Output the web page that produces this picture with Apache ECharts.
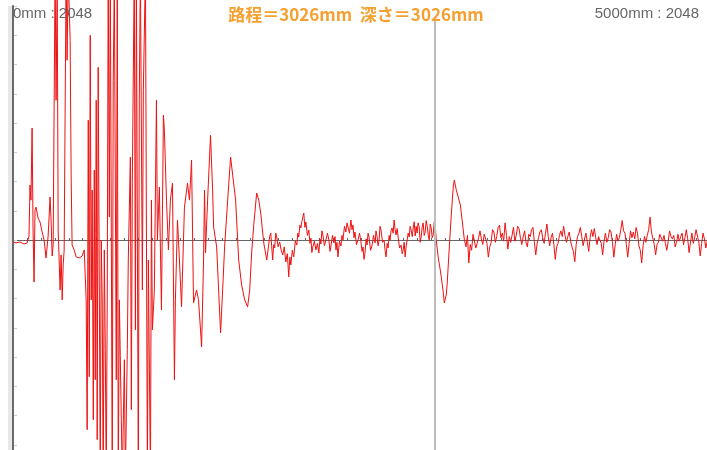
<!DOCTYPE html>
<html>
<head>
<meta charset="utf-8">
<script src="https://cdn.jsdelivr.net/npm/echarts@6/dist/echarts.min.js"></script>
<style>html,body{margin:0;padding:0;background:#fff}#c{width:707px;height:450px}</style>
</head>
<body>
<div id="c"></div>
<script>
// ---- data (position in mm, amplitude in A/D counts) ----
const rangeStartMm = 0;
const rangeEndMm = 5000;
const fullScale = 2048;
const cursorMm = 3026;
const depthMm = 3026;
const leftLabel = rangeStartMm + 'mm : ' + fullScale;
const rightLabel = rangeEndMm + 'mm : ' + fullScale;
const titleLabel = '路程＝' + cursorMm + 'mm  深さ＝' + depthMm + 'mm';

const quietStart = [[0,-17],[22,-26],[50,-17],[79,-35],[101,-26]];
const firstEcho = [[115,35],[122,481],[129,349],[137,979],[144,87],[151,-367],[158,262],[165,288],[180,192],[194,157],[209,70],[223,0],[237,-157],[252,35],[266,376],[273,175],[281,-140],[288,-44]];
const mainBurst = [[302,2359],[309,1223],[317,2272],[324,87],[338,-437],[345,-131],[353,-524],[360,-218],[367,-87],[381,2359],[388,1573],[396,2359],[410,1747],[417,568],[424,-44],[439,-87],[453,-148],[475,-157],[496,-140],[511,-87],[525,-524],[532,-1660],[540,1048],[547,-1197],[554,1791],[561,-524],[568,437],[576,-1573],[583,612],[590,-1223],[597,1223],[604,-1747],[611,1511],[626,-2010],[633,0],[640,-524],[647,-2097],[655,-87],[662,-961],[669,-2097],[676,-524],[683,2359],[691,201],[698,2359],[712,-2097],[719,1398],[727,2272],[741,-1223],[748,2359],[755,-2097],[763,-524],[777,-1573],[784,-2097],[799,-1048],[806,-2097],[820,-961],[827,-175],[842,725],[849,-1485],[856,524],[870,2359],[878,-786],[885,2359],[899,-2097],[906,1223],[914,2359],[928,-437],[935,1311],[950,2359],[964,-2097],[971,-175],[986,-2097],[993,349],[1000,-786],[1014,-437],[1029,1223],[1036,0],[1050,463],[1065,-612],[1079,1092]];
const decay = [[1086,961],[1101,349],[1115,-87],[1129,349],[1144,498],[1158,-1223],[1165,-524],[1180,175],[1194,-175],[1209,-585],[1223,0],[1230,288],[1252,498],[1266,349],[1281,699],[1295,-550],[1317,-437],[1331,-524],[1353,-935],[1367,-175],[1374,437],[1381,-114],[1396,349],[1417,917],[1432,437],[1439,114],[1461,-61],[1475,-437],[1489,-813],[1504,-437],[1518,-61],[1540,349],[1561,725],[1576,568],[1597,349],[1619,-175],[1640,-393],[1662,-524],[1683,-585],[1698,-437],[1712,-114],[1727,131],[1748,411],[1763,349],[1777,236],[1799,-26],[1820,-175]];
const midNoise = [[1834,-44],[1841,30],[1849,61],[1856,-60],[1863,-175],[1870,-40],[1877,-70],[1885,60],[1892,26],[1902,-60],[1913,-17],[1924,-90],[1935,-131],[1946,-60],[1957,-192],[1968,-120],[1978,-323],[1986,-150],[1993,-218],[2004,-90],[2014,-148],[2025,-10],[2036,-44],[2043,60],[2050,26],[2058,130],[2065,105],[2072,160],[2079,201],[2086,236],[2094,110],[2101,157],[2112,40],[2122,87],[2130,-30],[2137,17],[2144,-110],[2151,-61],[2162,-10],[2173,-87],[2184,-30],[2194,-114],[2202,10],[2209,-35],[2216,80],[2223,44],[2234,-50],[2245,0],[2256,60],[2266,0],[2274,-100],[2281,-52],[2292,40],[2302,-26],[2310,30],[2317,-87],[2324,-20],[2331,-148],[2342,-10],[2353,-52],[2360,40],[2367,0],[2378,120],[2388,70],[2396,150],[2403,114],[2414,60],[2424,175],[2432,90],[2439,131],[2446,20],[2453,70],[2464,-40],[2475,0],[2486,60],[2496,-17],[2504,-100],[2511,-61],[2518,-170],[2525,-114],[2533,10],[2540,-44],[2547,60],[2554,26],[2565,-90],[2575,-52],[2586,40],[2597,-26],[2604,80],[2611,35],[2619,-50],[2626,0],[2633,120],[2640,87],[2651,-20],[2662,0],[2669,-90],[2676,-148],[2684,-30],[2691,-70],[2698,40],[2705,0],[2712,80],[2719,105],[2727,60],[2734,175],[2741,90],[2748,44],[2756,100],[2763,26],[2773,-70],[2784,-44],[2792,-120],[2799,-87],[2806,-20],[2813,-148],[2820,-60],[2827,-44],[2835,60],[2842,26],[2849,120],[2856,87],[2864,30],[2871,105],[2878,160],[2885,35],[2892,120],[2899,61],[2906,150],[2914,114],[2921,-20],[2928,26],[2935,110],[2942,149],[2950,40],[2957,70],[2964,170],[2971,122],[2979,40],[2986,0],[2993,140],[3000,105],[3007,20],[3014,44],[3022,160],[3029,131]];
const reflection = [[3036,0],[3050,-148],[3065,-262],[3072,-323],[3086,-454],[3094,-550],[3108,-481],[3115,-376],[3130,-61],[3144,218],[3158,463],[3166,524],[3180,437],[3194,376],[3209,306],[3216,236],[3230,87],[3238,0]];
const tailNoise = [[3250,-60],[3260,40],[3270,-200],[3280,-40],[3290,-90],[3300,50],[3310,40],[3320,-70],[3330,-30],[3340,20],[3350,80],[3360,10],[3370,-40],[3380,50],[3390,60],[3400,-30],[3410,-150],[3420,-60],[3430,-20],[3440,90],[3450,70],[3460,-20],[3470,30],[3480,110],[3490,130],[3500,20],[3510,60],[3520,-10],[3530,150],[3540,40],[3550,-80],[3560,30],[3570,-20],[3580,40],[3590,110],[3600,-10],[3610,40],[3620,120],[3630,100],[3640,20],[3650,-40],[3660,30],[3670,80],[3680,-20],[3690,-60],[3700,50],[3710,30],[3720,90],[3730,110],[3740,-20],[3750,-130],[3760,-30],[3770,20],[3780,70],[3790,90],[3800,20],[3810,-30],[3820,60],[3830,140],[3840,30],[3850,-50],[3860,20],[3870,60],[3880,-40],[3890,-170],[3900,-60],[3910,-30],[3920,40],[3930,80],[3940,30],[3950,120],[3960,40],[3970,-20],[3980,30],[3990,70],[4000,-10],[4010,-60],[4020,-100],[4030,-190],[4040,-40],[4050,30],[4060,60],[4070,110],[4080,30],[4090,-50],[4100,10],[4110,60],[4120,-20],[4130,-100],[4140,20],[4150,90],[4160,30],[4170,100],[4180,20],[4190,-40],[4200,30],[4210,40],[4220,-30],[4230,-130],[4240,-10],[4250,60],[4260,-20],[4270,20],[4280,90],[4290,70],[4300,-20],[4310,-150],[4320,-40],[4330,50],[4340,-10],[4350,20],[4360,90],[4370,170],[4380,80],[4390,60],[4400,-40],[4410,-150],[4420,-30],[4430,80],[4440,20],[4450,70],[4460,10],[4470,110],[4480,60],[4490,-50],[4500,-90],[4510,-200],[4520,-50],[4530,30],[4540,-20],[4550,40],[4560,90],[4570,200],[4580,70],[4590,60],[4600,-40],[4610,-130],[4620,-40],[4630,-20],[4640,50],[4650,60],[4660,-10],[4670,40],[4680,-30],[4690,-90],[4700,-10],[4710,80],[4720,30],[4730,10],[4740,40],[4750,-60],[4760,-20],[4770,50],[4780,-10],[4790,30],[4800,60],[4810,-40],[4820,20],[4830,90],[4840,10],[4850,-110],[4860,-20],[4870,60],[4880,-30],[4890,20],[4900,90],[4910,80],[4920,-20],[4930,-140],[4940,-30],[4950,60],[4960,10],[4970,-70],[4980,-10],[4990,40],[5000,0]];

const waveform = [].concat(quietStart, firstEcho, mainBurst, decay, midNoise, reflection, tailNoise);

const chart = echarts.init(document.getElementById('c'), null, {renderer: 'canvas'});
chart.setOption({
  animation: false,
  backgroundColor: '#ffffff',
  grid: {left: 13, top: 6, width: 697, height: 468, containLabel: false, outerBoundsMode: 'none'},
  xAxis: {
    type: 'value', min: rangeStartMm, max: rangeEndMm, interval: 100,
    axisLine: {onZero: true, lineStyle: {color: '#666', width: 1}},
    axisTick: {show: true, inside: true, length: 2, lineStyle: {color: '#666'}},
    axisLabel: {show: false}, splitLine: {show: false}
  },
  yAxis: [{
    type: 'value', min: -fullScale, max: fullScale, interval: 256, position: 'left',
    axisLine: {show: true, onZero: false, lineStyle: {color: '#6a6a6a', width: 2}},
    axisTick: {show: true, inside: true, length: 4, lineStyle: {color: '#6a6a6a'}},
    axisLabel: {show: false}, splitLine: {show: false}
  }, {
    type: 'value', min: -fullScale, max: fullScale, interval: 256, position: 'right', offset: -4,
    axisLine: {show: false},
    axisTick: {show: true, inside: true, length: 3, lineStyle: {color: '#cfcfcf'}},
    axisLabel: {show: false}, splitLine: {show: false}
  }],
  graphic: [
    {type: 'rect', left: 8, top: 6, z: -1, shape: {width: 4, height: 444}, style: {fill: '#e8e8e8'}},
    {type: 'text', x: 13, y: 14, z: 10, style: {text: leftLabel, font: '15px "Liberation Sans", Arial, sans-serif', fill: '#666', textVerticalAlign: 'middle'}},
    {type: 'text', x: 699, y: 14, z: 10, style: {text: rightLabel, font: '15px "Liberation Sans", Arial, sans-serif', fill: '#666', textAlign: 'right', textVerticalAlign: 'middle'}},
    {type: 'text', x: 356, y: 15, z: 10, style: {text: titleLabel, font: 'bold 17px "Noto Sans CJK JP", sans-serif', fill: '#f5a030', textAlign: 'center', textVerticalAlign: 'middle'}}
  ],
  series: [{
    type: 'line', data: waveform, showSymbol: false, symbol: 'none', clip: false,
    lineStyle: {color: '#ee1111', width: 1}, z: 3,
    markLine: {
      silent: true, symbol: ['none', 'none'], label: {show: false}, animation: false,
      lineStyle: {color: '#bdbdbd', width: 2, type: 'solid'},
      data: [[{coord: [cursorMm, 1930]}, {coord: [cursorMm, -fullScale]}]]
    }
  }]
});
</script>
</body>
</html>
